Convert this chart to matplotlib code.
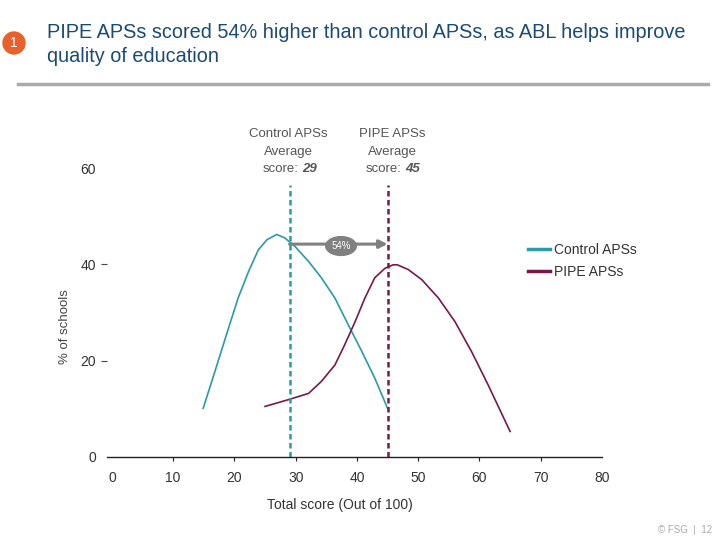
import numpy as np
import matplotlib.pyplot as plt
from matplotlib.lines import Line2D
from matplotlib.patches import Ellipse

plt.rcParams['font.family'] = ['Liberation Sans', 'DejaVu Sans']

# values (score, % of schools)
ctrl_x = [14.9, 16.8, 18.7, 20.6, 22.3, 23.9, 25.3, 26.9, 28.2, 29.9, 32.1, 34.2, 36.4, 38.6, 40.8, 42.9, 45.0]
ctrl_y = [10.1, 17.7, 25.4, 33.0, 38.5, 43.0, 45.1, 46.2, 45.5, 43.7, 40.6, 37.2, 33.0, 27.4, 21.9, 16.4, 10.1]
pipe_x = [25.0, 28.8, 32.1, 34.2, 36.4, 38.0, 39.7, 41.3, 42.9, 44.6, 45.9, 46.6,
          48.4, 50.6, 53.3, 56.0, 58.7, 61.4, 65.0]
pipe_y = [10.5, 11.9, 13.2, 15.7, 19.1, 23.3, 28.1, 33.0, 37.2, 39.2, 39.9, 39.9,
          38.9, 36.8, 33.0, 28.1, 21.9, 15.0, 5.3]

ctrl_avg = 29
pipe_avg = 45
uplift = '54%'

teal = '#2b9aa8'
plum = '#7a1848'
grey = '#808080'
txt = '#333333'

fig = plt.figure(figsize=(7.2, 5.4), dpi=100)
ax = fig.add_axes([107/720, 83/540, 495/720, 289/540])

ax.plot(ctrl_x, ctrl_y, color=teal, lw=1.2, solid_joinstyle='round')
ax.plot(pipe_x, pipe_y, color=plum, lw=1.2, solid_joinstyle='round')

ax.vlines(ctrl_avg, 0, 56.5, colors=teal, lw=1.8, linestyles=(0, (2.2, 1.4)))
ax.vlines(pipe_avg, 0, 56.5, colors=plum, lw=1.8, linestyles=(0, (2.2, 1.4)))

# arrow with the uplift bubble
ax.annotate('', xy=(pipe_avg, 44.2), xytext=(ctrl_avg, 44.2),
            arrowprops=dict(arrowstyle='-|>', color=grey, lw=2.2,
                            mutation_scale=12, shrinkA=0, shrinkB=0))
mid = (ctrl_avg + pipe_avg) / 2 + 0.4
ax.add_patch(Ellipse((mid, 43.8), 5.0, 3.9, color=grey, zorder=4))
ax.text(mid, 43.8, uplift, color='white', fontsize=7, ha='center', va='center', zorder=5)

ax.set_xlim(-0.8, 80)
ax.set_ylim(0, 60)
for s in ['top', 'right', 'left']:
    ax.spines[s].set_visible(False)
ax.spines['bottom'].set_color('#222222')
ax.spines['bottom'].set_linewidth(1.0)

ax.set_xticks([10, 20, 30, 40, 50, 60, 70])
ax.set_xticks([0, 80], minor=True)
ax.set_xticklabels(['10', '20', '30', '40', '50', '60', '70'])
ax.set_xticklabels(['0', '80'], minor=True)
ax.tick_params(axis='x', which='major', length=3, width=0.8, pad=7, labelsize=10, labelcolor=txt, color='#222222')
ax.tick_params(axis='x', which='minor', length=0, pad=10, labelsize=10, labelcolor=txt)

ax.set_yticks([20, 40])
ax.set_yticks([0, 60], minor=True)
ax.set_yticklabels(['20', '40'])
ax.set_yticklabels(['0', '60'], minor=True)
ax.tick_params(axis='y', which='major', length=4, width=0.8, pad=4, labelsize=10, labelcolor=txt, color='#444444')
ax.tick_params(axis='y', which='minor', length=0, pad=8, labelsize=10, labelcolor=txt)

# legend
handles = [Line2D([], [], color=teal, lw=2.5), Line2D([], [], color=plum, lw=2.5)]
fig.legend(handles, ['Control APSs', 'PIPE APSs'], loc='upper left',
           bbox_to_anchor=(528/720, 1 - 243/540), frameon=False, fontsize=10,
           borderpad=0, borderaxespad=0, handlelength=1.6, handletextpad=0.3,
           labelspacing=0.55, labelcolor=txt)

# average score notes
ny = [134, 152, 169]
fig.text(288.5/720, 1 - ny[0]/540, 'Control APSs', ha='center', va='center', fontsize=9.5, color='#555555')
fig.text(288.5/720, 1 - ny[1]/540, 'Average', ha='center', va='center', fontsize=9.5, color='#555555')
fig.text(299/720, 1 - ny[2]/540, 'score:', ha='right', va='center', fontsize=9.5, color='#555555')
fig.text(302/720, 1 - ny[2]/540, str(ctrl_avg), ha='left', va='center', fontsize=9.5,
         color='#555555', weight='bold', style='italic')
fig.text(392/720, 1 - ny[0]/540, 'PIPE APSs', ha='center', va='center', fontsize=9.5, color='#555555')
fig.text(392/720, 1 - ny[1]/540, 'Average', ha='center', va='center', fontsize=9.5, color='#555555')
fig.text(402/720, 1 - ny[2]/540, 'score:', ha='right', va='center', fontsize=9.5, color='#555555')
fig.text(405/720, 1 - ny[2]/540, str(pipe_avg), ha='left', va='center', fontsize=9.5,
         color='#555555', weight='bold', style='italic')

fig.text(65/720, 1 - 327/540, '% of schools', rotation=90, ha='center', va='center', fontsize=9.5, color='#444444')
fig.text(340/720, 1 - 505/540, 'Total score (Out of 100)', ha='center', va='center', fontsize=10, color=txt)

# header
fig.add_artist(Ellipse((14/720, 1 - 43/540), 22/720, 22/540, transform=fig.transFigure,
                       color='#e8612c', zorder=3))
fig.text(14/720, 1 - 43/540, '1', ha='center', va='center', fontsize=10, color='white', zorder=4)
fig.text(47/720, 1 - 32/540, 'PIPE APSs scored 54% higher than control APSs, as ABL helps improve',
         ha='left', va='center', fontsize=14.3, color='#1b4a75')
fig.text(47/720, 1 - 56/540, 'quality of education', ha='left', va='center', fontsize=14.3, color='#1b4a75')
fig.add_artist(Line2D([18/720, 708/720], [1 - 84/540, 1 - 84/540], color='#aaaaaa', lw=2.5))

fig.text(712/720, 1 - 530/540, '\u00a9 FSG  |  12', ha='right', va='center', fontsize=7, color='#aaaaaa')

fig.savefig('out.png', dpi=100)
